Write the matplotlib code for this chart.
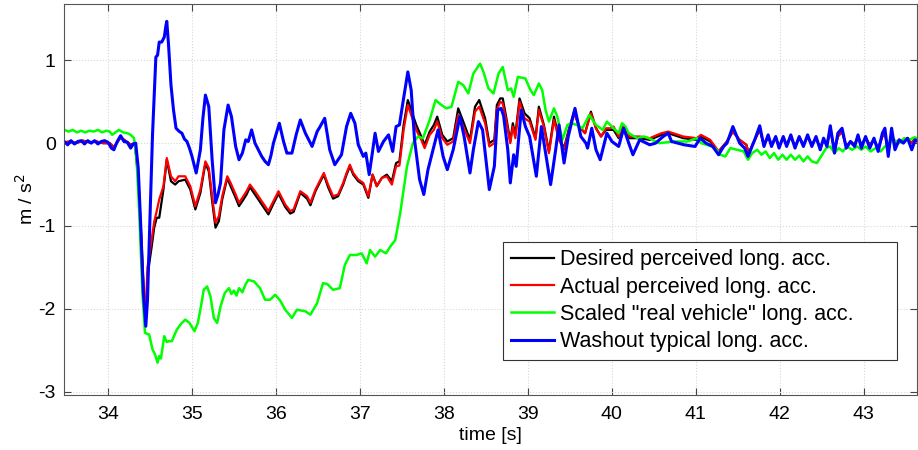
import matplotlib
matplotlib.use("Agg")
import matplotlib.pyplot as plt

plt.rcParams['font.family'] = ['Liberation Sans', 'DejaVu Sans']
plt.rcParams['axes.unicode_minus'] = False

# washout typical long. acc. (blue)
wash_t = [33.48, 33.52, 33.56, 33.60, 33.64, 33.68, 33.72, 33.76, 33.80, 33.84, 33.88, 33.92, 33.96, 34.00,
          34.04, 34.07, 34.11, 34.15, 34.19, 34.23, 34.27, 34.30, 34.33, 34.36, 34.39, 34.42, 34.45, 34.47,
          34.50, 34.53, 34.57, 34.59, 34.61, 34.64, 34.67, 34.69, 34.70, 34.72, 34.75, 34.78, 34.81, 34.85,
          34.88, 34.91, 34.94, 34.97, 35.00, 35.05, 35.10, 35.13, 35.16, 35.20, 35.24, 35.28, 35.31, 35.34,
          35.38, 35.43, 35.47, 35.50, 35.52, 35.56, 35.60, 35.64, 35.67, 35.71, 35.75, 35.79, 35.83, 35.87,
          35.91, 35.94, 35.97, 36.04, 36.09, 36.13, 36.19, 36.24, 36.29, 36.35, 36.43, 36.49, 36.52, 36.58,
          36.64, 36.70, 36.78, 36.84, 36.89, 36.94, 36.98, 37.04, 37.07, 37.11, 37.15, 37.18, 37.22, 37.28,
          37.34, 37.39, 37.43, 37.47, 37.51, 37.57, 37.61, 37.65, 37.71, 37.76, 37.81, 37.87, 37.93, 37.99,
          38.04, 38.11, 38.19, 38.24, 38.31, 38.35, 38.41, 38.46, 38.54, 38.60, 38.64, 38.68, 38.71, 38.76,
          38.79, 38.83, 38.86, 38.92, 38.97, 39.02, 39.10, 39.16, 39.21, 39.27, 39.33, 39.37, 39.43, 39.48,
          39.56, 39.63, 39.69, 39.71, 39.76, 39.81, 39.86, 39.94, 40.00, 40.08, 40.14, 40.20, 40.25, 40.33,
          40.45, 40.52, 40.61, 40.67, 40.71, 40.86, 40.99, 41.05, 41.12, 41.20, 41.27, 41.33, 41.37, 41.44,
          41.52, 41.58, 41.62, 41.70, 41.76, 41.81, 41.86, 41.90, 41.95, 41.99, 42.04, 42.08, 42.13, 42.18,
          42.23, 42.28, 42.33, 42.38, 42.43, 42.48, 42.52, 42.56, 42.60, 42.65, 42.69, 42.74, 42.79, 42.84,
          42.89, 42.93, 42.97, 43.02, 43.07, 43.12, 43.17, 43.22, 43.25, 43.29, 43.33, 43.37, 43.42, 43.47,
          43.52, 43.57, 43.61, 43.64]
wash_v = [0.02, -0.02, 0.03, -0.01, 0.02, 0.03, -0.01, 0.03, 0.00, 0.03, -0.01, 0.02, 0.03, 0.01,
          -0.06, -0.08, 0.02, 0.09, 0.02, 0.01, -0.06, -0.01, 0.00, -0.30, -1.00, -1.80, -2.21, -1.90,
          -0.90, 0.10, 1.04, 1.06, 1.22, 1.22, 1.28, 1.42, 1.47, 1.20, 0.70, 0.40, 0.18, 0.14,
          0.12, 0.05, 0.02, -0.06, -0.16, -0.36, -0.08, 0.30, 0.58, 0.44, -0.20, -0.72, -0.62, -0.48,
          0.16, 0.46, 0.32, 0.10, -0.04, -0.20, -0.12, 0.04, 0.02, 0.16, 0.00, -0.08, -0.16, -0.22,
          -0.26, -0.15, 0.00, 0.24, 0.02, -0.12, -0.12, 0.10, 0.28, 0.12, -0.04, 0.14, 0.19, 0.30,
          -0.08, -0.26, -0.14, 0.20, 0.36, 0.24, -0.02, -0.16, -0.12, -0.38, -0.10, 0.12, -0.10, 0.02,
          0.10, -0.10, 0.20, 0.22, 0.48, 0.86, 0.64, 0.04, -0.44, -0.62, -0.32, -0.08, 0.16, -0.16,
          -0.32, -0.08, 0.32, 0.08, -0.36, -0.08, 0.26, 0.16, -0.56, -0.28, 0.40, 0.42, 0.33, -0.08,
          -0.48, -0.14, -0.28, 0.40, 0.20, 0.08, -0.40, 0.20, -0.12, -0.50, -0.08, 0.22, -0.24, 0.08,
          0.42, 0.08, 0.00, -0.06, 0.18, -0.08, -0.20, 0.12, 0.02, -0.04, 0.18, 0.00, -0.14, 0.04,
          -0.02, 0.00, 0.08, 0.12, 0.02, -0.02, -0.04, 0.06, 0.00, -0.04, -0.14, -0.04, 0.00, 0.20,
          0.00, -0.06, -0.16, 0.04, 0.21, -0.04, 0.10, -0.04, 0.08, -0.06, 0.08, -0.04, 0.10, -0.06,
          0.08, -0.04, 0.10, -0.04, 0.08, -0.08, 0.06, -0.04, 0.21, -0.12, 0.12, 0.18, -0.06, 0.02,
          -0.04, 0.10, -0.06, 0.08, -0.06, 0.06, -0.10, 0.12, 0.18, -0.16, 0.18, -0.08, 0.04, 0.00,
          0.06, -0.08, 0.04, 0.02]

# actual perceived long. acc. (red) and desired perceived long. acc. (black)
perc_t = [33.48, 33.55, 33.62, 33.70, 33.78, 33.86, 33.94, 34.02, 34.07, 34.15, 34.22, 34.27, 34.32, 34.36,
          34.40, 34.43, 34.45, 34.47, 34.52, 34.55, 34.58, 34.61, 34.66, 34.70, 34.75, 34.80, 34.84, 34.92,
          34.98, 35.04, 35.10, 35.16, 35.20, 35.24, 35.28, 35.32, 35.36, 35.42, 35.46, 35.52, 35.56, 35.60,
          35.65, 35.69, 35.75, 35.83, 35.91, 35.97, 36.03, 36.11, 36.17, 36.21, 36.29, 36.37, 36.41, 36.47,
          36.52, 36.57, 36.62, 36.68, 36.74, 36.80, 36.84, 36.88, 36.92, 36.98, 37.04, 37.10, 37.15, 37.20,
          37.26, 37.32, 37.38, 37.43, 37.47, 37.52, 37.57, 37.61, 37.67, 37.73, 37.77, 37.83, 37.88, 37.92,
          37.98, 38.04, 38.11, 38.17, 38.23, 38.31, 38.37, 38.42, 38.49, 38.54, 38.60, 38.63, 38.67, 38.70,
          38.74, 38.79, 38.82, 38.85, 38.90, 38.96, 39.02, 39.09, 39.13, 39.19, 39.25, 39.31, 39.37, 39.43,
          39.49, 39.55, 39.61, 39.68, 39.75, 39.81, 39.87, 39.93, 39.98, 40.02, 40.08, 40.14, 40.21, 40.33,
          40.45, 40.59, 40.67, 40.85, 41.01, 41.06, 41.17, 41.27, 41.37, 41.44, 41.52, 41.60, 41.63, 41.70,
          41.76, 41.81, 41.86, 41.90, 41.95, 41.99, 42.04, 42.08, 42.13, 42.18, 42.23, 42.28, 42.33, 42.38,
          42.43, 42.48, 42.52, 42.56, 42.60, 42.65, 42.69, 42.74, 42.79, 42.84, 42.89, 42.93, 42.97, 43.02,
          43.07, 43.12, 43.17, 43.22, 43.25, 43.29, 43.33, 43.37, 43.42, 43.47, 43.52, 43.57, 43.61, 43.64]
act_v = [0.01, 0.02, 0.00, 0.03, 0.01, 0.02, 0.00, 0.00, -0.05, 0.07, 0.02, -0.02, 0.00, -0.40,
         -1.20, -1.85, -2.05, -1.50, -1.16, -0.95, -0.82, -0.68, -0.52, -0.18, -0.40, -0.46, -0.40, -0.40,
         -0.52, -0.76, -0.56, -0.22, -0.30, -0.64, -0.96, -0.88, -0.64, -0.40, -0.48, -0.62, -0.72, -0.66,
         -0.58, -0.50, -0.58, -0.70, -0.82, -0.70, -0.58, -0.74, -0.82, -0.80, -0.58, -0.64, -0.72, -0.56,
         -0.46, -0.36, -0.50, -0.64, -0.62, -0.48, -0.36, -0.26, -0.36, -0.44, -0.48, -0.64, -0.38, -0.52,
         -0.42, -0.40, -0.50, -0.28, -0.27, 0.16, 0.46, 0.34, 0.16, 0.04, -0.06, 0.10, 0.16, 0.26,
         0.06, -0.02, 0.02, 0.34, 0.20, 0.00, 0.38, 0.44, 0.24, -0.04, 0.00, 0.40, 0.50, 0.48,
         0.28, 0.00, 0.20, 0.06, 0.50, 0.30, 0.26, 0.04, 0.40, 0.20, -0.12, 0.28, 0.04, -0.08,
         0.16, 0.36, 0.20, 0.12, 0.36, 0.18, 0.08, 0.18, 0.18, 0.20, 0.08, 0.22, 0.08, 0.08,
         0.06, 0.12, 0.14, 0.08, 0.06, 0.10, 0.04, -0.10, 0.02, 0.14, 0.04, -0.02, -0.12, 0.04,
         0.16, -0.02, 0.08, -0.02, 0.07, -0.04, 0.07, -0.02, 0.08, -0.04, 0.07, -0.02, 0.08, -0.02,
         0.06, -0.06, 0.04, -0.02, 0.16, -0.08, 0.08, 0.14, -0.04, 0.02, -0.02, 0.08, -0.02, 0.06,
         -0.02, 0.04, -0.06, 0.08, 0.12, -0.10, 0.12, -0.02, 0.04, 0.02, 0.06, 0.00, 0.06, 0.05]
des_v = [0.01, 0.02, 0.00, 0.03, 0.01, 0.02, 0.00, 0.00, -0.05, 0.07, 0.02, -0.02, 0.00, -0.42,
         -1.25, -1.90, -2.12, -1.60, -1.25, -1.02, -0.90, -0.90, -0.56, -0.20, -0.46, -0.50, -0.46, -0.44,
         -0.56, -0.80, -0.60, -0.24, -0.34, -0.70, -1.02, -0.94, -0.68, -0.42, -0.52, -0.66, -0.76, -0.70,
         -0.62, -0.53, -0.62, -0.74, -0.86, -0.73, -0.61, -0.77, -0.85, -0.83, -0.60, -0.67, -0.75, -0.58,
         -0.48, -0.38, -0.53, -0.67, -0.64, -0.50, -0.38, -0.28, -0.38, -0.46, -0.50, -0.66, -0.38, -0.52,
         -0.42, -0.38, -0.46, -0.24, -0.22, 0.22, 0.52, 0.40, 0.22, 0.08, -0.02, 0.14, 0.22, 0.32,
         0.10, 0.02, 0.06, 0.42, 0.26, 0.04, 0.44, 0.52, 0.30, 0.00, 0.04, 0.46, 0.54, 0.54,
         0.32, 0.02, 0.24, 0.10, 0.54, 0.36, 0.30, 0.06, 0.44, 0.22, -0.10, 0.32, 0.06, -0.06,
         0.18, 0.38, 0.20, 0.12, 0.38, 0.18, 0.08, 0.16, 0.16, 0.16, 0.06, 0.18, 0.06, 0.06,
         0.04, 0.10, 0.12, 0.06, 0.04, 0.08, 0.02, -0.10, 0.02, 0.14, 0.04, -0.02, -0.12, 0.04,
         0.16, -0.02, 0.08, -0.02, 0.07, -0.04, 0.07, -0.02, 0.08, -0.04, 0.07, -0.02, 0.08, -0.02,
         0.06, -0.06, 0.04, -0.02, 0.16, -0.08, 0.08, 0.14, -0.04, 0.02, -0.02, 0.08, -0.02, 0.06,
         -0.02, 0.04, -0.06, 0.08, 0.12, -0.10, 0.12, -0.02, 0.04, 0.02, 0.06, 0.00, 0.06, 0.05]

# scaled "real vehicle" long. acc. (green)
real_t = [33.48, 33.53, 33.58, 33.63, 33.68, 33.73, 33.78, 33.83, 33.88, 33.93, 33.98, 34.02, 34.05, 34.09,
          34.13, 34.18, 34.23, 34.27, 34.31, 34.34, 34.37, 34.41, 34.44, 34.49, 34.53, 34.56, 34.59, 34.61,
          34.63, 34.67, 34.70, 34.73, 34.76, 34.82, 34.87, 34.92, 34.97, 35.03, 35.07, 35.11, 35.14, 35.18,
          35.22, 35.26, 35.30, 35.34, 35.39, 35.44, 35.47, 35.50, 35.53, 35.56, 35.60, 35.64, 35.67, 35.74,
          35.81, 35.87, 35.93, 35.99, 36.05, 36.11, 36.19, 36.25, 36.30, 36.35, 36.41, 36.49, 36.56, 36.61,
          36.68, 36.76, 36.82, 36.88, 36.96, 37.02, 37.08, 37.12, 37.18, 37.24, 37.31, 37.36, 37.42, 37.48,
          37.56, 37.63, 37.69, 37.75, 37.83, 37.90, 37.97, 38.03, 38.09, 38.17, 38.23, 38.29, 38.35, 38.43,
          38.47, 38.53, 38.59, 38.65, 38.70, 38.76, 38.80, 38.83, 38.88, 38.97, 39.03, 39.07, 39.13, 39.17,
          39.21, 39.25, 39.31, 39.35, 39.41, 39.47, 39.52, 39.58, 39.65, 39.73, 39.81, 39.89, 39.94, 39.98,
          40.08, 40.12, 40.16, 40.20, 40.30, 40.38, 40.44, 40.56, 40.75, 40.90, 41.01, 41.06, 41.19, 41.25,
          41.29, 41.35, 41.41, 41.49, 41.57, 41.62, 41.67, 41.73, 41.78, 41.83, 41.88, 41.93, 41.98, 42.03,
          42.08, 42.13, 42.18, 42.23, 42.28, 42.33, 42.38, 42.44, 42.49, 42.55, 42.60, 42.65, 42.70, 42.75,
          42.80, 42.86, 42.92, 42.97, 43.02, 43.08, 43.14, 43.20, 43.25, 43.30, 43.36, 43.42, 43.48, 43.54,
          43.60, 43.64]
real_v = [0.16, 0.14, 0.16, 0.13, 0.15, 0.13, 0.15, 0.14, 0.16, 0.13, 0.15, 0.14, 0.10, 0.13,
          0.16, 0.13, 0.12, 0.10, 0.06, -0.20, -0.80, -1.81, -2.29, -2.31, -2.49, -2.55, -2.65, -2.57,
          -2.60, -2.33, -2.40, -2.39, -2.39, -2.25, -2.18, -2.13, -2.17, -2.27, -2.17, -1.95, -1.77, -1.73,
          -1.85, -2.11, -2.17, -1.97, -1.81, -1.75, -1.82, -1.78, -1.84, -1.75, -1.80, -1.70, -1.65, -1.67,
          -1.75, -1.89, -1.89, -1.83, -1.90, -2.01, -2.11, -2.01, -2.02, -2.03, -2.07, -1.93, -1.69, -1.70,
          -1.77, -1.75, -1.47, -1.35, -1.35, -1.33, -1.45, -1.29, -1.37, -1.29, -1.33, -1.25, -1.17, -0.84,
          -0.28, 0.00, 0.08, 0.06, 0.28, 0.52, 0.46, 0.42, 0.44, 0.74, 0.70, 0.60, 0.84, 0.96,
          0.86, 0.66, 0.60, 0.84, 0.92, 0.64, 0.66, 0.56, 0.80, 0.78, 0.64, 0.58, 0.72, 0.64,
          0.40, 0.26, 0.42, 0.32, 0.04, 0.22, 0.24, 0.22, 0.18, 0.34, 0.22, 0.16, 0.26, 0.22,
          0.12, 0.24, 0.20, 0.12, 0.06, 0.08, 0.06, 0.00, 0.02, 0.02, 0.06, 0.00, -0.04, -0.08,
          -0.14, -0.16, -0.06, -0.08, -0.10, -0.20, -0.12, -0.08, -0.14, -0.10, -0.18, -0.12, -0.20, -0.14,
          -0.20, -0.14, -0.20, -0.15, -0.22, -0.16, -0.22, -0.24, -0.16, -0.06, -0.04, -0.12, -0.06, -0.10,
          -0.04, -0.08, -0.04, -0.08, -0.04, -0.10, -0.06, -0.10, -0.04, 0.00, 0.04, 0.00, 0.06, 0.04,
          0.07, 0.06]

labels = ['Desired perceived long. acc.', 'Actual perceived long. acc.',
          'Scaled "real vehicle" long. acc.', 'Washout typical long. acc.']

fig = plt.figure(figsize=(9.18, 4.5), dpi=100)
ax = fig.add_axes([0.0697, 0.1222, 0.929, 0.869])

ax.plot(perc_t, des_v, color='black', lw=1.6, label=labels[0])
ax.plot(perc_t, act_v, color='#ff0000', lw=1.6, label=labels[1])
ax.plot(real_t, real_v, color='#00ff00', lw=1.8, label=labels[2])
ax.plot(wash_t, wash_v, color='#0000ff', lw=2.2, label=labels[3])

ax.set_xlim(33.476, 43.63)
ax.set_ylim(-3.04, 1.68)
ax.set_xticks(range(34, 44))
ax.set_yticks([-3, -2, -1, 0, 1])
ax.grid(True, color='#d8d8d8', linestyle=':', linewidth=0.8)
ax.tick_params(direction='in', top=True, right=True, labelsize=14, length=5, color='#444444')
ax.tick_params(axis='x', pad=8)
ax.tick_params(axis='y', pad=6)
for s in ax.spines.values():
    s.set_color('#555555')

ax.set_xlabel('time [s]', fontsize=14, labelpad=3)
ax.set_ylabel('m / s$^2$', fontsize=14, labelpad=1)

# trailing spaces widen the frame on the right, as in the reference
leg = ax.legend([l + '      ' for l in labels], loc='lower left', bbox_to_anchor=(0.515, 0.0895),
                borderaxespad=0, fontsize=15.5, fancybox=False, framealpha=1, edgecolor='#333333',
                handlelength=2.0, handletextpad=0.3, labelspacing=0.3, borderpad=0.35)
leg.get_frame().set_linewidth(0.8)

fig.savefig('out.png', dpi=100)
